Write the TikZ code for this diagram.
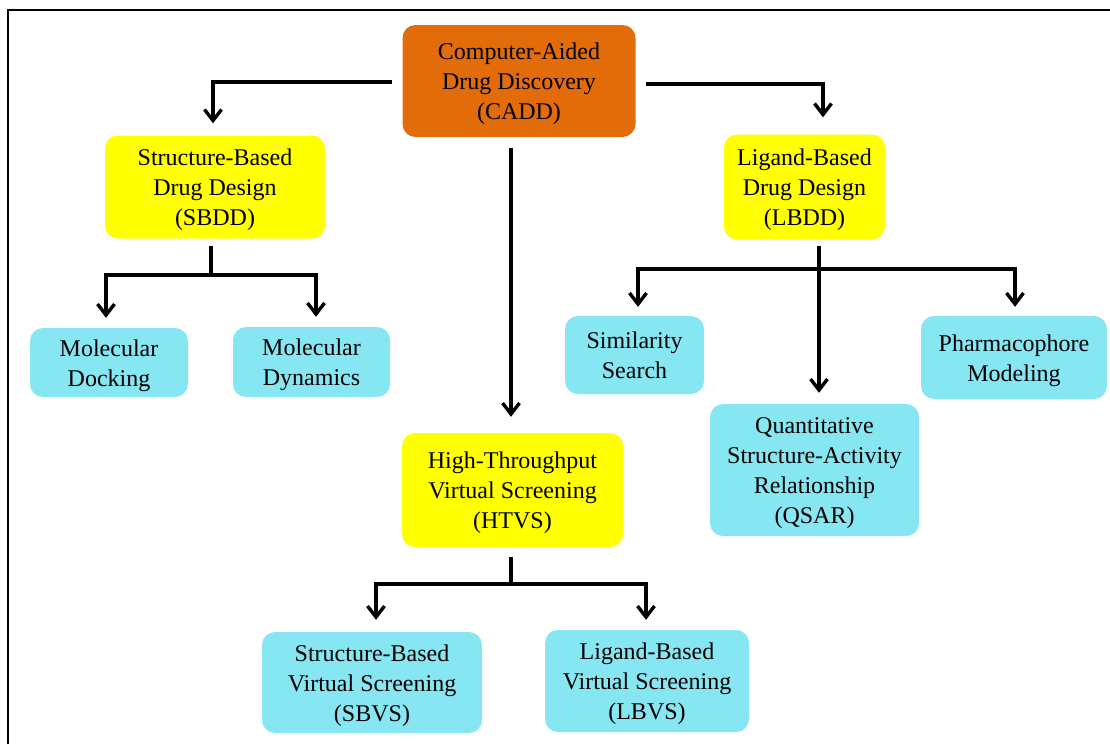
\documentclass[tikz,border=0pt]{standalone}
\usepackage{fontspec}
\setmainfont{Liberation Serif}
\usetikzlibrary{arrows.meta}
\definecolor{caddorange}{HTML}{E36C0A}
\definecolor{designyellow}{HTML}{FFFF00}
\definecolor{methodcyan}{HTML}{86E6F2}
% invisible strut that fixes the height of a box's first text line
\newcommand{\boxtop}{\rule{0pt}{23pt}}
\tikzset{
  box/.style={rounded corners=13pt, inner sep=0pt, align=center,
    font=\fontsize{24}{30}\selectfont,
    execute at end node={\rule[-6pt]{0pt}{6pt}}},
  rootbox/.style={box, fill=caddorange},
  designbox/.style={box, fill=designyellow},
  methodbox/.style={box, fill=methodcyan},
  link/.style={line width=3.4pt},
  arr/.style={link, -{Straight Barb[length=11pt,width=17pt,line width=3.4pt]}},
  frame/.style={line width=2pt}
}
\begin{document}
\begin{tikzpicture}[x=1pt, y=-1pt]
\useasboundingbox (0,0) rectangle (1110,744);
\draw[frame] (8,744) -- (8,10) -- (1110,10);

% main nodes
\node[rootbox, minimum width=233pt, minimum height=112pt] (cadd) at (519,81)
  {\boxtop Computer-Aided\\Drug Discovery\\(CADD)};
\node[designbox, minimum width=220pt, minimum height=103pt] (sbdd) at (215,187)
  {\boxtop Structure-Based\\Drug Design\\(SBDD)};
\node[designbox, minimum width=161pt, minimum height=105pt] (lbdd) at (804.5,187)
  {\boxtop Ligand-Based\\Drug Design\\(LBDD)};
\node[designbox, minimum width=221pt, minimum height=114pt] (htvs) at (512.5,490)
  {\boxtop High-Throughput\\Virtual Screening\\(HTVS)};

% methods
\node[methodbox, minimum width=158pt, minimum height=69pt] (dock) at (109,362.5)
  {\boxtop Molecular\\Docking};
\node[methodbox, minimum width=157pt, minimum height=70pt] (dyn) at (311.5,362)
  {\boxtop Molecular\\Dynamics};
\node[methodbox, minimum width=139pt, minimum height=78pt] (sim) at (634.5,355)
  {\boxtop Similarity\\Search};
\node[methodbox, minimum width=186pt, minimum height=83pt] (pharm) at (1014,357.5)
  {\boxtop Pharmacophore\\Modeling};
\node[methodbox, minimum width=209pt, minimum height=132pt] (qsar) at (814.5,470)
  {\boxtop Quantitative\\Structure-Activity\\Relationship\\(QSAR)};
\node[methodbox, minimum width=220pt, minimum height=101pt] (sbvs) at (372,682.5)
  {\boxtop Structure-Based\\Virtual Screening\\(SBVS)};
\node[methodbox, minimum width=204pt, minimum height=102pt] (lbvs) at (647,681)
  {\boxtop Ligand-Based\\Virtual Screening\\(LBVS)};

% branch points
\coordinate (cL) at (213,82);
\coordinate (cR) at (823,84);
\coordinate (sbJ) at (211,275);
\coordinate (lbJ) at (819,269);
\coordinate (hJ) at (511,584);

% CADD branches
\draw[arr, shorten <=10pt, shorten >=12pt] (cadd.west |- cL) -- (cL) -- (cL |- sbdd.north);
\draw[arr, shorten <=10pt, shorten >=17pt] (cadd.east |- cR) -- (cR) -- (cR |- lbdd.north);
\draw[arr, shorten <=11pt, shorten >=16pt] (cadd.south -| hJ) -- (hJ |- htvs.north);

% SBDD branches
\draw[link, shorten <=7pt] (sbdd.south -| sbJ) -- (sbJ);
\draw[arr, shorten >=10pt] (sbJ) -| ([xshift=-3pt]dock.north);
\draw[arr, shorten >=10pt] (sbJ) -| ([xshift=4.5pt]dyn.north);

% LBDD branches
\draw[arr, shorten <=6pt, shorten >=11pt] (lbdd.south -| lbJ) -- (lbJ |- qsar.north);
\draw[arr, shorten >=9pt] (lbJ) -| ([xshift=3.5pt]sim.north);
\draw[arr, shorten >=9pt] (lbJ) -| ([xshift=1pt]pharm.north);

% HTVS branches
\draw[link, shorten <=10pt] (htvs.south -| hJ) -- (hJ);
\draw[arr, shorten >=12pt] (hJ) -| ([xshift=4pt]sbvs.north);
\draw[arr, shorten >=10pt] (hJ) -| ([xshift=-1pt]lbvs.north);
\end{tikzpicture}
\end{document}
